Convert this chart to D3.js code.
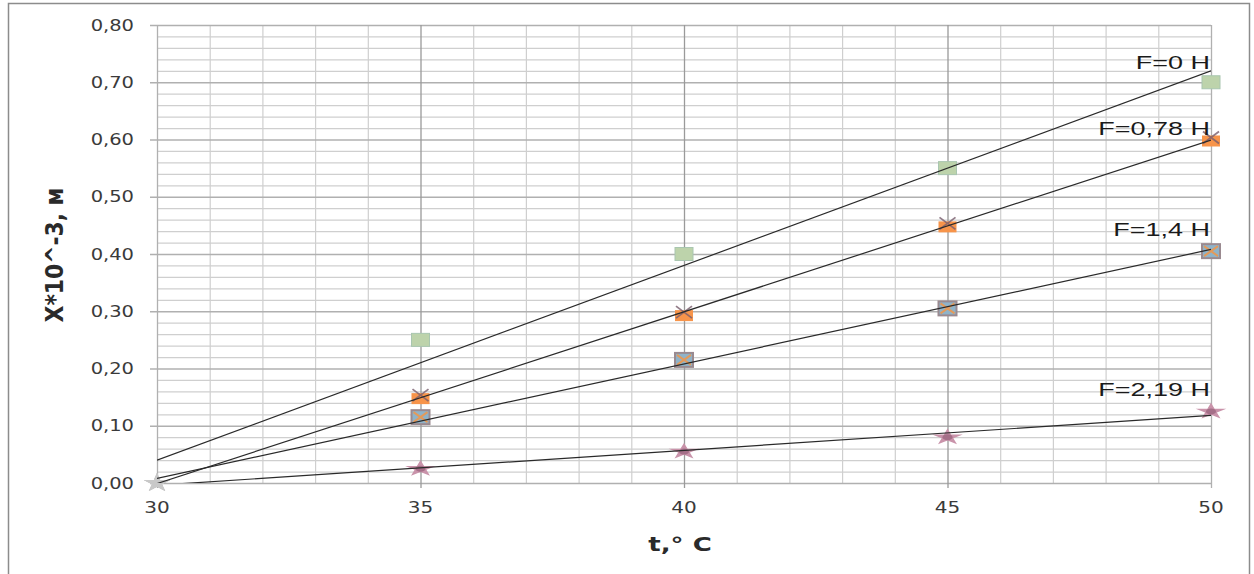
<!DOCTYPE html>
<html>
<head>
<meta charset="utf-8">
<script src="https://cdn.jsdelivr.net/npm/d3@7"></script>
<style>
  body { margin: 0; background: #fff; }
  svg text { font-family: "DejaVu Sans", sans-serif; }
</style>
</head>
<body>
<svg id="chart" width="1254" height="574"></svg>
<script>
// ---------------- data ----------------
var temps = [30, 35, 40, 45, 50];
var seriesNames = ["F=0 H", "F=0,78 H", "F=1,4 H", "F=2,19 H"];
var valsF0 = [0.00, 0.25, 0.40, 0.55, 0.70];
var valsF078 = [0.00, 0.15, 0.295, 0.45, 0.60];
var valsF14 = [0.00, 0.115, 0.215, 0.305, 0.405];
var valsF219 = [0.00, 0.025, 0.055, 0.08, 0.125];
var yTicks = [0, 0.1, 0.2, 0.3, 0.4, 0.5, 0.6, 0.7, 0.8];
var xTicks = [30, 35, 40, 45, 50];

var allVals = [valsF0, valsF078, valsF14, valsF219];
// label offsets above the last marker (layout only)
var labelLift = [20, 11, 22, 22];
var markerKind = ["square", "squareX", "squareX2", "star"];

var svg = d3.select("#chart");

// frame
svg.append("rect").attr("x", 8.5).attr("y", 3.5).attr("width", 1241).attr("height", 600)
  .attr("fill", "none").attr("stroke", "#8c8c8c").attr("stroke-width", 1.5);

var x = d3.scaleLinear().domain([30, 50]).range([157, 1211]);
var y = d3.scaleLinear().domain([0, 0.8]).range([483, 25]);

//------------ grid ------------
var g = svg.append("g");
g.selectAll(".vminor").data(d3.range(31, 50, 1).filter(function(d) { return d % 5 != 0; }))
  .enter().append("line")
  .attr("x1", function(d) { return x(d) + 0.5; }).attr("x2", function(d) { return x(d) + 0.5; })
  .attr("y1", y(0.8)).attr("y2", y(0))
  .attr("stroke", "#cfcfcf").attr("stroke-width", 1.2);
g.selectAll(".hminor").data(d3.range(1, 40, 1).filter(function(d) { return d % 5 != 0; }))
  .enter().append("line")
  .attr("x1", x(30)).attr("x2", x(50))
  .attr("y1", function(d) { return y(d * 0.02) + 0.5; }).attr("y2", function(d) { return y(d * 0.02) + 0.5; })
  .attr("stroke", "#cfcfcf").attr("stroke-width", 1.2);
g.selectAll(".hmajor").data(yTicks).enter().append("line")
  .attr("x1", x(30) - 7).attr("x2", x(50))
  .attr("y1", function(d) { return y(d) + 0.5; }).attr("y2", function(d) { return y(d) + 0.5; })
  .attr("stroke", "#b0b0b0").attr("stroke-width", 1.3);
g.selectAll(".vmajor").data(xTicks).enter().append("line")
  .attr("x1", function(d) { return x(d) + 0.5; }).attr("x2", function(d) { return x(d) + 0.5; })
  .attr("y1", y(0.8)).attr("y2", y(0) + 5)
  .attr("stroke", function(d) { return (d == 30 || d == 50) ? "#b0b0b0" : "#9a9a9a"; })
  .attr("stroke-width", 1.3);

//------------ tick labels ------------
var fmt = d3.format(".2f");
svg.selectAll(".ylab").data(yTicks).enter().append("text")
  .attr("transform", function(d) { return "translate(134," + (y(d) + 5.5) + ") scale(1.3,1)"; })
  .attr("text-anchor", "end").attr("font-size", 15).attr("fill", "#3a3a3a")
  .text(function(d) { return fmt(d).replace(".", ","); });
svg.selectAll(".xlab").data(xTicks).enter().append("text")
  .attr("transform", function(d) { return "translate(" + x(d) + ",513) scale(1.25,1)"; })
  .attr("text-anchor", "middle").attr("font-size", 16).attr("fill", "#3a3a3a")
  .text(function(d) { return d; });

// axis titles
svg.append("text")
  .attr("transform", "translate(680,551) scale(1.3,1)")
  .attr("text-anchor", "middle").attr("font-size", 20).attr("font-weight", "bold").attr("fill", "#2a2a2a")
  .text("t,° C");
svg.append("text")
  .attr("transform", "translate(63,255) rotate(-90) scale(1.15,1.3)")
  .attr("text-anchor", "middle").attr("font-size", 19).attr("font-weight", "bold").attr("fill", "#2a2a2a")
  .text("X*10^-3, м");

//------------ markers ------------
function drawMarker(sel, kind, px, py, zero) {
  var m = sel.append("g").attr("transform", "translate(" + px + "," + py + ")");
  if (zero) {
    m.append("path").attr("d", d3.symbol(d3.symbolStar, 110)())
      .attr("transform", "scale(1.4,1)").attr("fill", "#c8c8c8").attr("opacity", 0.9);
    return;
  }
  if (kind == "square") {
    m.append("rect").attr("x", -9).attr("y", -6.5).attr("width", 18).attr("height", 13)
      .attr("fill", "#bdd3ab").attr("stroke", "#a9c6b0").attr("stroke-width", 1);
  } else if (kind == "squareX") {
    m.append("rect").attr("x", -9).attr("y", -4).attr("width", 18).attr("height", 11)
      .attr("fill", "#f7944a");
    m.append("path").attr("d", "M-8,-8L8,4M8,-8L-8,4")
      .attr("stroke", "#7a5f6e").attr("stroke-width", 1.8).attr("opacity", 0.8);
  } else if (kind == "squareX2") {
    m.append("rect").attr("x", -9).attr("y", -7).attr("width", 18).attr("height", 14)
      .attr("fill", "#8fb3c9").attr("stroke", "#9a8a90").attr("stroke-width", 2);
    m.append("path").attr("d", "M-7,-5L7,5M7,-5L-7,5")
      .attr("stroke", "#e49a5a").attr("stroke-width", 2);
  } else {
    m.append("path").attr("d", d3.symbol(d3.symbolStar, 130)())
      .attr("transform", "scale(1.5,0.8)").attr("fill", "#c993aa");
    m.append("ellipse").attr("rx", 5).attr("ry", 3).attr("fill", "#a56f88");
  }
}

//------------ trendlines (least squares fit of each series) ------------
svg.append("clipPath").attr("id", "plotclip").append("rect")
  .attr("x", x(30)).attr("y", y(0.8)).attr("width", x(50) - x(30)).attr("height", y(0) - y(0.8));

function fit(vals) {
  var mx = d3.mean(temps), my = d3.mean(vals);
  var num = d3.sum(temps, function(t, i) { return (t - mx) * (vals[i] - my); });
  var den = d3.sum(temps, function(t) { return (t - mx) * (t - mx); });
  var b = num / den;
  return { a: my - b * mx, b: b };
}

var markers = svg.append("g");
allVals.forEach(function(vals, s) {
  temps.forEach(function(t, i) {
    drawMarker(markers, markerKind[s], x(t), y(vals[i]), vals[i] == 0);
  });
});

var trend = svg.append("g").attr("clip-path", "url(#plotclip)");
allVals.forEach(function(vals) {
  var f = fit(vals);
  trend.append("line")
    .attr("x1", x(30)).attr("y1", y(f.a + f.b * 30))
    .attr("x2", x(50)).attr("y2", y(f.a + f.b * 50))
    .attr("stroke", "#2a2a2a").attr("stroke-width", 1.2);
});

// series labels
seriesNames.forEach(function(name, s) {
  var last = allVals[s][allVals[s].length - 1];
  svg.append("text")
    .attr("transform", "translate(1210," + (y(last) - labelLift[s] + 6.5) + ") scale(1.5,1)")
    .attr("text-anchor", "end").attr("font-size", 18).attr("fill", "#1a1a1a")
    .style("font-family", "'Liberation Sans', Arial, sans-serif")
    .text(name);
});
</script>
</body>
</html>
